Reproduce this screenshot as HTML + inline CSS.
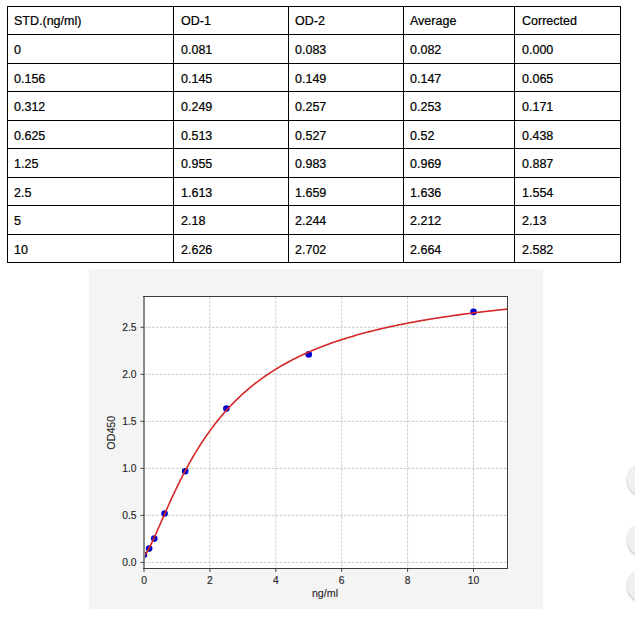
<!DOCTYPE html>
<html><head><meta charset="utf-8"><style>
html,body{margin:0;padding:0;background:#fff;}
body{width:635px;height:618px;position:relative;overflow:hidden;font-family:"Liberation Sans",sans-serif;}
.h{position:absolute;left:7px;width:614px;height:1px;background:#000;}
.v{position:absolute;top:6px;width:1px;height:257px;background:#000;}
.t{position:absolute;font-size:12.5px;line-height:0;color:#000;white-space:nowrap;-webkit-text-stroke:0.22px #000;}
svg{position:absolute;left:0;top:0;}
.tk{font-family:"Liberation Sans",sans-serif;font-size:10.3px;fill:#262626;stroke:#262626;stroke-width:0.15px;}
.lb{font-family:"Liberation Sans",sans-serif;font-size:10.7px;fill:#262626;stroke:#262626;stroke-width:0.12px;}
.fab{position:absolute;left:626.5px;width:33px;height:33px;border-radius:50%;background:#f0f0f0;box-shadow:0 1px 2px rgba(0,0,0,0.3);}
</style></head><body>
<div class="h" style="top:6px"></div>
<div class="h" style="top:34px"></div>
<div class="h" style="top:63px"></div>
<div class="h" style="top:91px"></div>
<div class="h" style="top:120px"></div>
<div class="h" style="top:148px"></div>
<div class="h" style="top:177px"></div>
<div class="h" style="top:205px"></div>
<div class="h" style="top:234px"></div>
<div class="h" style="top:262px"></div>
<div class="v" style="left:7px"></div>
<div class="v" style="left:173px"></div>
<div class="v" style="left:288px"></div>
<div class="v" style="left:403px"></div>
<div class="v" style="left:514px"></div>
<div class="v" style="left:620px"></div>
<div class="t" style="left:14px;top:21.00px">STD.(ng/ml)</div>
<div class="t" style="left:181px;top:21.00px">OD-1</div>
<div class="t" style="left:295px;top:21.00px">OD-2</div>
<div class="t" style="left:410px;top:21.00px">Average</div>
<div class="t" style="left:522px;top:21.00px">Corrected</div>
<div class="t" style="left:14px;top:49.60px">0</div>
<div class="t" style="left:181px;top:49.60px">0.081</div>
<div class="t" style="left:295px;top:49.60px">0.083</div>
<div class="t" style="left:410px;top:49.60px">0.082</div>
<div class="t" style="left:522px;top:49.60px">0.000</div>
<div class="t" style="left:14px;top:78.60px">0.156</div>
<div class="t" style="left:181px;top:78.60px">0.145</div>
<div class="t" style="left:295px;top:78.60px">0.149</div>
<div class="t" style="left:410px;top:78.60px">0.147</div>
<div class="t" style="left:522px;top:78.60px">0.065</div>
<div class="t" style="left:14px;top:106.60px">0.312</div>
<div class="t" style="left:181px;top:106.60px">0.249</div>
<div class="t" style="left:295px;top:106.60px">0.257</div>
<div class="t" style="left:410px;top:106.60px">0.253</div>
<div class="t" style="left:522px;top:106.60px">0.171</div>
<div class="t" style="left:14px;top:135.60px">0.625</div>
<div class="t" style="left:181px;top:135.60px">0.513</div>
<div class="t" style="left:295px;top:135.60px">0.527</div>
<div class="t" style="left:410px;top:135.60px">0.52</div>
<div class="t" style="left:522px;top:135.60px">0.438</div>
<div class="t" style="left:14px;top:163.60px">1.25</div>
<div class="t" style="left:181px;top:163.60px">0.955</div>
<div class="t" style="left:295px;top:163.60px">0.983</div>
<div class="t" style="left:410px;top:163.60px">0.969</div>
<div class="t" style="left:522px;top:163.60px">0.887</div>
<div class="t" style="left:14px;top:192.60px">2.5</div>
<div class="t" style="left:181px;top:192.60px">1.613</div>
<div class="t" style="left:295px;top:192.60px">1.659</div>
<div class="t" style="left:410px;top:192.60px">1.636</div>
<div class="t" style="left:522px;top:192.60px">1.554</div>
<div class="t" style="left:14px;top:220.60px">5</div>
<div class="t" style="left:181px;top:220.60px">2.18</div>
<div class="t" style="left:295px;top:220.60px">2.244</div>
<div class="t" style="left:410px;top:220.60px">2.212</div>
<div class="t" style="left:522px;top:220.60px">2.13</div>
<div class="t" style="left:14px;top:249.60px">10</div>
<div class="t" style="left:181px;top:249.60px">2.626</div>
<div class="t" style="left:295px;top:249.60px">2.702</div>
<div class="t" style="left:410px;top:249.60px">2.664</div>
<div class="t" style="left:522px;top:249.60px">2.582</div>
<svg width="635" height="618" viewBox="0 0 635 618">
<rect x="89" y="269" width="454" height="340" fill="#f4f4f4"/>
<rect x="144.0" y="296.3" width="363.5" height="272.09999999999997" fill="#fff"/>
<line x1="144.00" y1="296.3" x2="144.00" y2="568.4" stroke="#cdcdcd" stroke-width="1" stroke-dasharray="2.9,1.1"/>
<line x1="209.90" y1="296.3" x2="209.90" y2="568.4" stroke="#cdcdcd" stroke-width="1" stroke-dasharray="2.9,1.1"/>
<line x1="275.80" y1="296.3" x2="275.80" y2="568.4" stroke="#cdcdcd" stroke-width="1" stroke-dasharray="2.9,1.1"/>
<line x1="341.70" y1="296.3" x2="341.70" y2="568.4" stroke="#cdcdcd" stroke-width="1" stroke-dasharray="2.9,1.1"/>
<line x1="407.60" y1="296.3" x2="407.60" y2="568.4" stroke="#cdcdcd" stroke-width="1" stroke-dasharray="2.9,1.1"/>
<line x1="473.50" y1="296.3" x2="473.50" y2="568.4" stroke="#cdcdcd" stroke-width="1" stroke-dasharray="2.9,1.1"/>
<line x1="144.0" y1="562.40" x2="507.5" y2="562.40" stroke="#cdcdcd" stroke-width="1" stroke-dasharray="2.9,1.1"/>
<line x1="144.0" y1="515.38" x2="507.5" y2="515.38" stroke="#cdcdcd" stroke-width="1" stroke-dasharray="2.9,1.1"/>
<line x1="144.0" y1="468.36" x2="507.5" y2="468.36" stroke="#cdcdcd" stroke-width="1" stroke-dasharray="2.9,1.1"/>
<line x1="144.0" y1="421.34" x2="507.5" y2="421.34" stroke="#cdcdcd" stroke-width="1" stroke-dasharray="2.9,1.1"/>
<line x1="144.0" y1="374.32" x2="507.5" y2="374.32" stroke="#cdcdcd" stroke-width="1" stroke-dasharray="2.9,1.1"/>
<line x1="144.0" y1="327.30" x2="507.5" y2="327.30" stroke="#cdcdcd" stroke-width="1" stroke-dasharray="2.9,1.1"/>
<clipPath id="cp"><rect x="144.0" y="296.3" width="363.5" height="272.09999999999997"/></clipPath>
<circle cx="144.00" cy="554.69" r="3.3" fill="#0000cc" clip-path="url(#cp)"/>
<circle cx="149.14" cy="548.58" r="3.3" fill="#0000cc" clip-path="url(#cp)"/>
<circle cx="154.28" cy="538.61" r="3.3" fill="#0000cc" clip-path="url(#cp)"/>
<circle cx="164.59" cy="513.50" r="3.3" fill="#0000cc" clip-path="url(#cp)"/>
<circle cx="185.19" cy="471.28" r="3.3" fill="#0000cc" clip-path="url(#cp)"/>
<circle cx="226.38" cy="408.55" r="3.3" fill="#0000cc" clip-path="url(#cp)"/>
<circle cx="308.75" cy="354.38" r="3.3" fill="#0000cc" clip-path="url(#cp)"/>
<circle cx="473.50" cy="311.88" r="3.3" fill="#0000cc" clip-path="url(#cp)"/>
<polyline points="144.00,555.76 144.92,554.95 145.83,553.74 146.75,552.34 147.67,550.79 148.58,549.13 149.50,547.39 150.42,545.57 151.33,543.70 152.25,541.78 153.17,539.82 154.08,537.83 155.00,535.81 155.92,533.77 156.83,531.71 157.75,529.64 158.67,527.55 159.58,525.47 160.50,523.38 161.42,521.28 162.33,519.19 163.25,517.10 164.17,515.02 165.08,512.94 166.00,510.87 166.92,508.82 167.83,506.77 168.75,504.73 169.67,502.70 170.58,500.69 171.50,498.69 172.42,496.71 173.33,494.74 174.25,492.79 175.17,490.86 176.08,488.94 177.00,487.04 177.92,485.15 178.83,483.29 179.75,481.44 180.67,479.61 181.58,477.80 182.50,476.00 183.42,474.23 184.33,472.47 185.25,470.74 186.17,469.02 187.08,467.32 188.00,465.64 188.92,463.98 189.83,462.33 190.75,460.71 191.67,459.10 192.58,457.51 193.50,455.94 194.42,454.39 195.33,452.85 196.25,451.34 197.17,449.84 198.08,448.36 199.00,446.89 199.92,445.45 200.83,444.02 201.75,442.61 202.67,441.21 203.58,439.83 204.50,438.47 205.42,437.12 206.33,435.79 207.25,434.48 208.17,433.18 209.08,431.89 210.00,430.63 210.92,429.37 211.83,428.14 212.75,426.91 213.67,425.70 214.58,424.51 215.50,423.33 216.42,422.17 217.33,421.01 218.25,419.88 219.17,418.75 220.08,417.64 221.00,416.54 221.92,415.46 222.83,414.38 223.75,413.32 224.67,412.28 225.58,411.24 226.50,410.22 227.42,409.21 228.33,408.21 229.25,407.22 230.17,406.24 231.08,405.28 232.00,404.33 232.92,403.38 233.83,402.45 234.75,401.53 235.67,400.62 236.58,399.72 237.50,398.83 238.42,397.95 239.33,397.08 240.25,396.22 241.17,395.37 242.08,394.53 243.00,393.70 243.92,392.88 244.83,392.06 245.75,391.26 246.67,390.46 247.58,389.68 248.50,388.90 249.42,388.13 250.33,387.37 251.25,386.62 252.17,385.87 253.08,385.14 254.00,384.41 254.92,383.69 255.83,382.98 256.75,382.27 257.67,381.58 258.58,380.89 259.50,380.20 260.42,379.53 261.33,378.86 262.25,378.20 263.17,377.55 264.08,376.90 265.00,376.26 265.92,375.62 266.83,375.00 267.75,374.38 268.66,373.76 269.58,373.15 270.50,372.55 271.41,371.96 272.33,371.37 273.25,370.78 274.16,370.20 275.08,369.63 276.00,369.07 276.91,368.51 277.83,367.95 278.75,367.40 279.66,366.86 280.58,366.32 281.50,365.78 282.41,365.26 283.33,364.73 284.25,364.21 285.16,363.70 286.08,363.19 287.00,362.69 287.91,362.19 288.83,361.70 289.75,361.21 290.66,360.73 291.58,360.25 292.50,359.77 293.41,359.30 294.33,358.83 295.25,358.37 296.16,357.92 297.08,357.46 298.00,357.01 298.91,356.57 299.83,356.13 300.75,355.69 301.66,355.26 302.58,354.83 303.50,354.40 304.41,353.98 305.33,353.57 306.25,353.15 307.16,352.74 308.08,352.34 309.00,351.93 309.91,351.54 310.83,351.14 311.75,350.75 312.66,350.36 313.58,349.98 314.50,349.59 315.41,349.22 316.33,348.84 317.25,348.47 318.16,348.10 319.08,347.74 320.00,347.37 320.91,347.01 321.83,346.66 322.75,346.31 323.66,345.96 324.58,345.61 325.50,345.26 326.41,344.92 327.33,344.58 328.25,344.25 329.16,343.92 330.08,343.59 331.00,343.26 331.91,342.93 332.83,342.61 333.75,342.29 334.66,341.98 335.58,341.66 336.50,341.35 337.41,341.04 338.33,340.74 339.25,340.43 340.16,340.13 341.08,339.83 342.00,339.53 342.91,339.24 343.83,338.95 344.75,338.66 345.66,338.37 346.58,338.09 347.50,337.80 348.41,337.52 349.33,337.24 350.25,336.97 351.16,336.69 352.08,336.42 353.00,336.15 353.91,335.88 354.83,335.62 355.75,335.35 356.66,335.09 357.58,334.83 358.50,334.57 359.41,334.32 360.33,334.06 361.25,333.81 362.16,333.56 363.08,333.31 364.00,333.06 364.91,332.82 365.83,332.58 366.75,332.34 367.66,332.10 368.58,331.86 369.50,331.62 370.41,331.39 371.33,331.16 372.25,330.93 373.16,330.70 374.08,330.47 375.00,330.24 375.91,330.02 376.83,329.80 377.75,329.58 378.66,329.36 379.58,329.14 380.50,328.92 381.41,328.71 382.33,328.49 383.25,328.28 384.16,328.07 385.08,327.86 386.00,327.66 386.91,327.45 387.83,327.25 388.75,327.04 389.66,326.84 390.58,326.64 391.50,326.44 392.41,326.24 393.33,326.05 394.25,325.85 395.16,325.66 396.08,325.47 397.00,325.28 397.91,325.09 398.83,324.90 399.75,324.71 400.66,324.52 401.58,324.34 402.50,324.16 403.41,323.97 404.33,323.79 405.25,323.61 406.16,323.43 407.08,323.26 408.00,323.08 408.91,322.90 409.83,322.73 410.75,322.56 411.66,322.39 412.58,322.21 413.50,322.04 414.41,321.88 415.33,321.71 416.25,321.54 417.16,321.38 418.08,321.21 419.00,321.05 419.91,320.89 420.83,320.73 421.75,320.57 422.66,320.41 423.58,320.25 424.50,320.09 425.41,319.93 426.33,319.78 427.25,319.63 428.16,319.47 429.08,319.32 430.00,319.17 430.91,319.02 431.83,318.87 432.75,318.72 433.66,318.57 434.58,318.42 435.50,318.28 436.41,318.13 437.33,317.99 438.25,317.85 439.16,317.70 440.08,317.56 441.00,317.42 441.91,317.28 442.83,317.14 443.75,317.00 444.66,316.87 445.58,316.73 446.50,316.59 447.41,316.46 448.33,316.32 449.25,316.19 450.16,316.06 451.08,315.92 452.00,315.79 452.91,315.66 453.83,315.53 454.75,315.40 455.66,315.28 456.58,315.15 457.50,315.02 458.41,314.90 459.33,314.77 460.25,314.65 461.16,314.52 462.08,314.40 463.00,314.28 463.91,314.15 464.83,314.03 465.75,313.91 466.66,313.79 467.58,313.67 468.50,313.56 469.41,313.44 470.33,313.32 471.25,313.20 472.16,313.09 473.08,312.97 474.00,312.86 474.91,312.74 475.83,312.63 476.75,312.52 477.66,312.41 478.58,312.29 479.50,312.18 480.41,312.07 481.33,311.96 482.25,311.85 483.16,311.75 484.08,311.64 485.00,311.53 485.91,311.42 486.83,311.32 487.75,311.21 488.66,311.11 489.58,311.00 490.50,310.90 491.41,310.79 492.33,310.69 493.25,310.59 494.16,310.49 495.08,310.39 496.00,310.29 496.91,310.19 497.83,310.09 498.75,309.99 499.66,309.89 500.58,309.79 501.50,309.69 502.41,309.59 503.33,309.50 504.25,309.40 505.16,309.31 506.08,309.21 507.00,309.12 507.91,309.02 508.83,308.93 509.75,308.83" fill="none" stroke="#d42828" stroke-width="1.6" clip-path="url(#cp)"/>
<rect x="143" y="296" width="2" height="273" fill="#8a8a8a"/>
<rect x="143" y="296" width="365" height="1" fill="#3c3c3c"/>
<rect x="507" y="296" width="1" height="273" fill="#3c3c3c"/>
<rect x="143" y="568" width="365" height="1" fill="#3c3c3c"/>
<line x1="144.00" y1="568.4" x2="144.00" y2="571.9" stroke="#333" stroke-width="0.9"/>
<text x="144.00" y="583.6" text-anchor="middle" class="tk">0</text>
<line x1="209.90" y1="568.4" x2="209.90" y2="571.9" stroke="#333" stroke-width="0.9"/>
<text x="209.90" y="583.6" text-anchor="middle" class="tk">2</text>
<line x1="275.80" y1="568.4" x2="275.80" y2="571.9" stroke="#333" stroke-width="0.9"/>
<text x="275.80" y="583.6" text-anchor="middle" class="tk">4</text>
<line x1="341.70" y1="568.4" x2="341.70" y2="571.9" stroke="#333" stroke-width="0.9"/>
<text x="341.70" y="583.6" text-anchor="middle" class="tk">6</text>
<line x1="407.60" y1="568.4" x2="407.60" y2="571.9" stroke="#333" stroke-width="0.9"/>
<text x="407.60" y="583.6" text-anchor="middle" class="tk">8</text>
<line x1="473.50" y1="568.4" x2="473.50" y2="571.9" stroke="#333" stroke-width="0.9"/>
<text x="473.50" y="583.6" text-anchor="middle" class="tk">10</text>
<line x1="140.5" y1="562.40" x2="144.0" y2="562.40" stroke="#333" stroke-width="0.9"/>
<text x="136.5" y="566.00" text-anchor="end" class="tk">0.0</text>
<line x1="140.5" y1="515.38" x2="144.0" y2="515.38" stroke="#333" stroke-width="0.9"/>
<text x="136.5" y="518.98" text-anchor="end" class="tk">0.5</text>
<line x1="140.5" y1="468.36" x2="144.0" y2="468.36" stroke="#333" stroke-width="0.9"/>
<text x="136.5" y="471.96" text-anchor="end" class="tk">1.0</text>
<line x1="140.5" y1="421.34" x2="144.0" y2="421.34" stroke="#333" stroke-width="0.9"/>
<text x="136.5" y="424.94" text-anchor="end" class="tk">1.5</text>
<line x1="140.5" y1="374.32" x2="144.0" y2="374.32" stroke="#333" stroke-width="0.9"/>
<text x="136.5" y="377.92" text-anchor="end" class="tk">2.0</text>
<line x1="140.5" y1="327.30" x2="144.0" y2="327.30" stroke="#333" stroke-width="0.9"/>
<text x="136.5" y="330.90" text-anchor="end" class="tk">2.5</text>
<text x="325" y="597" text-anchor="middle" class="lb">ng/ml</text>
<text transform="translate(115,432.7) rotate(-90)" text-anchor="middle" class="lb">OD450</text>
</svg>
<div class="fab" style="top:462.5px"></div>
<div class="fab" style="top:522.5px"></div>
<div class="fab" style="top:568.5px"></div>
</body></html>
